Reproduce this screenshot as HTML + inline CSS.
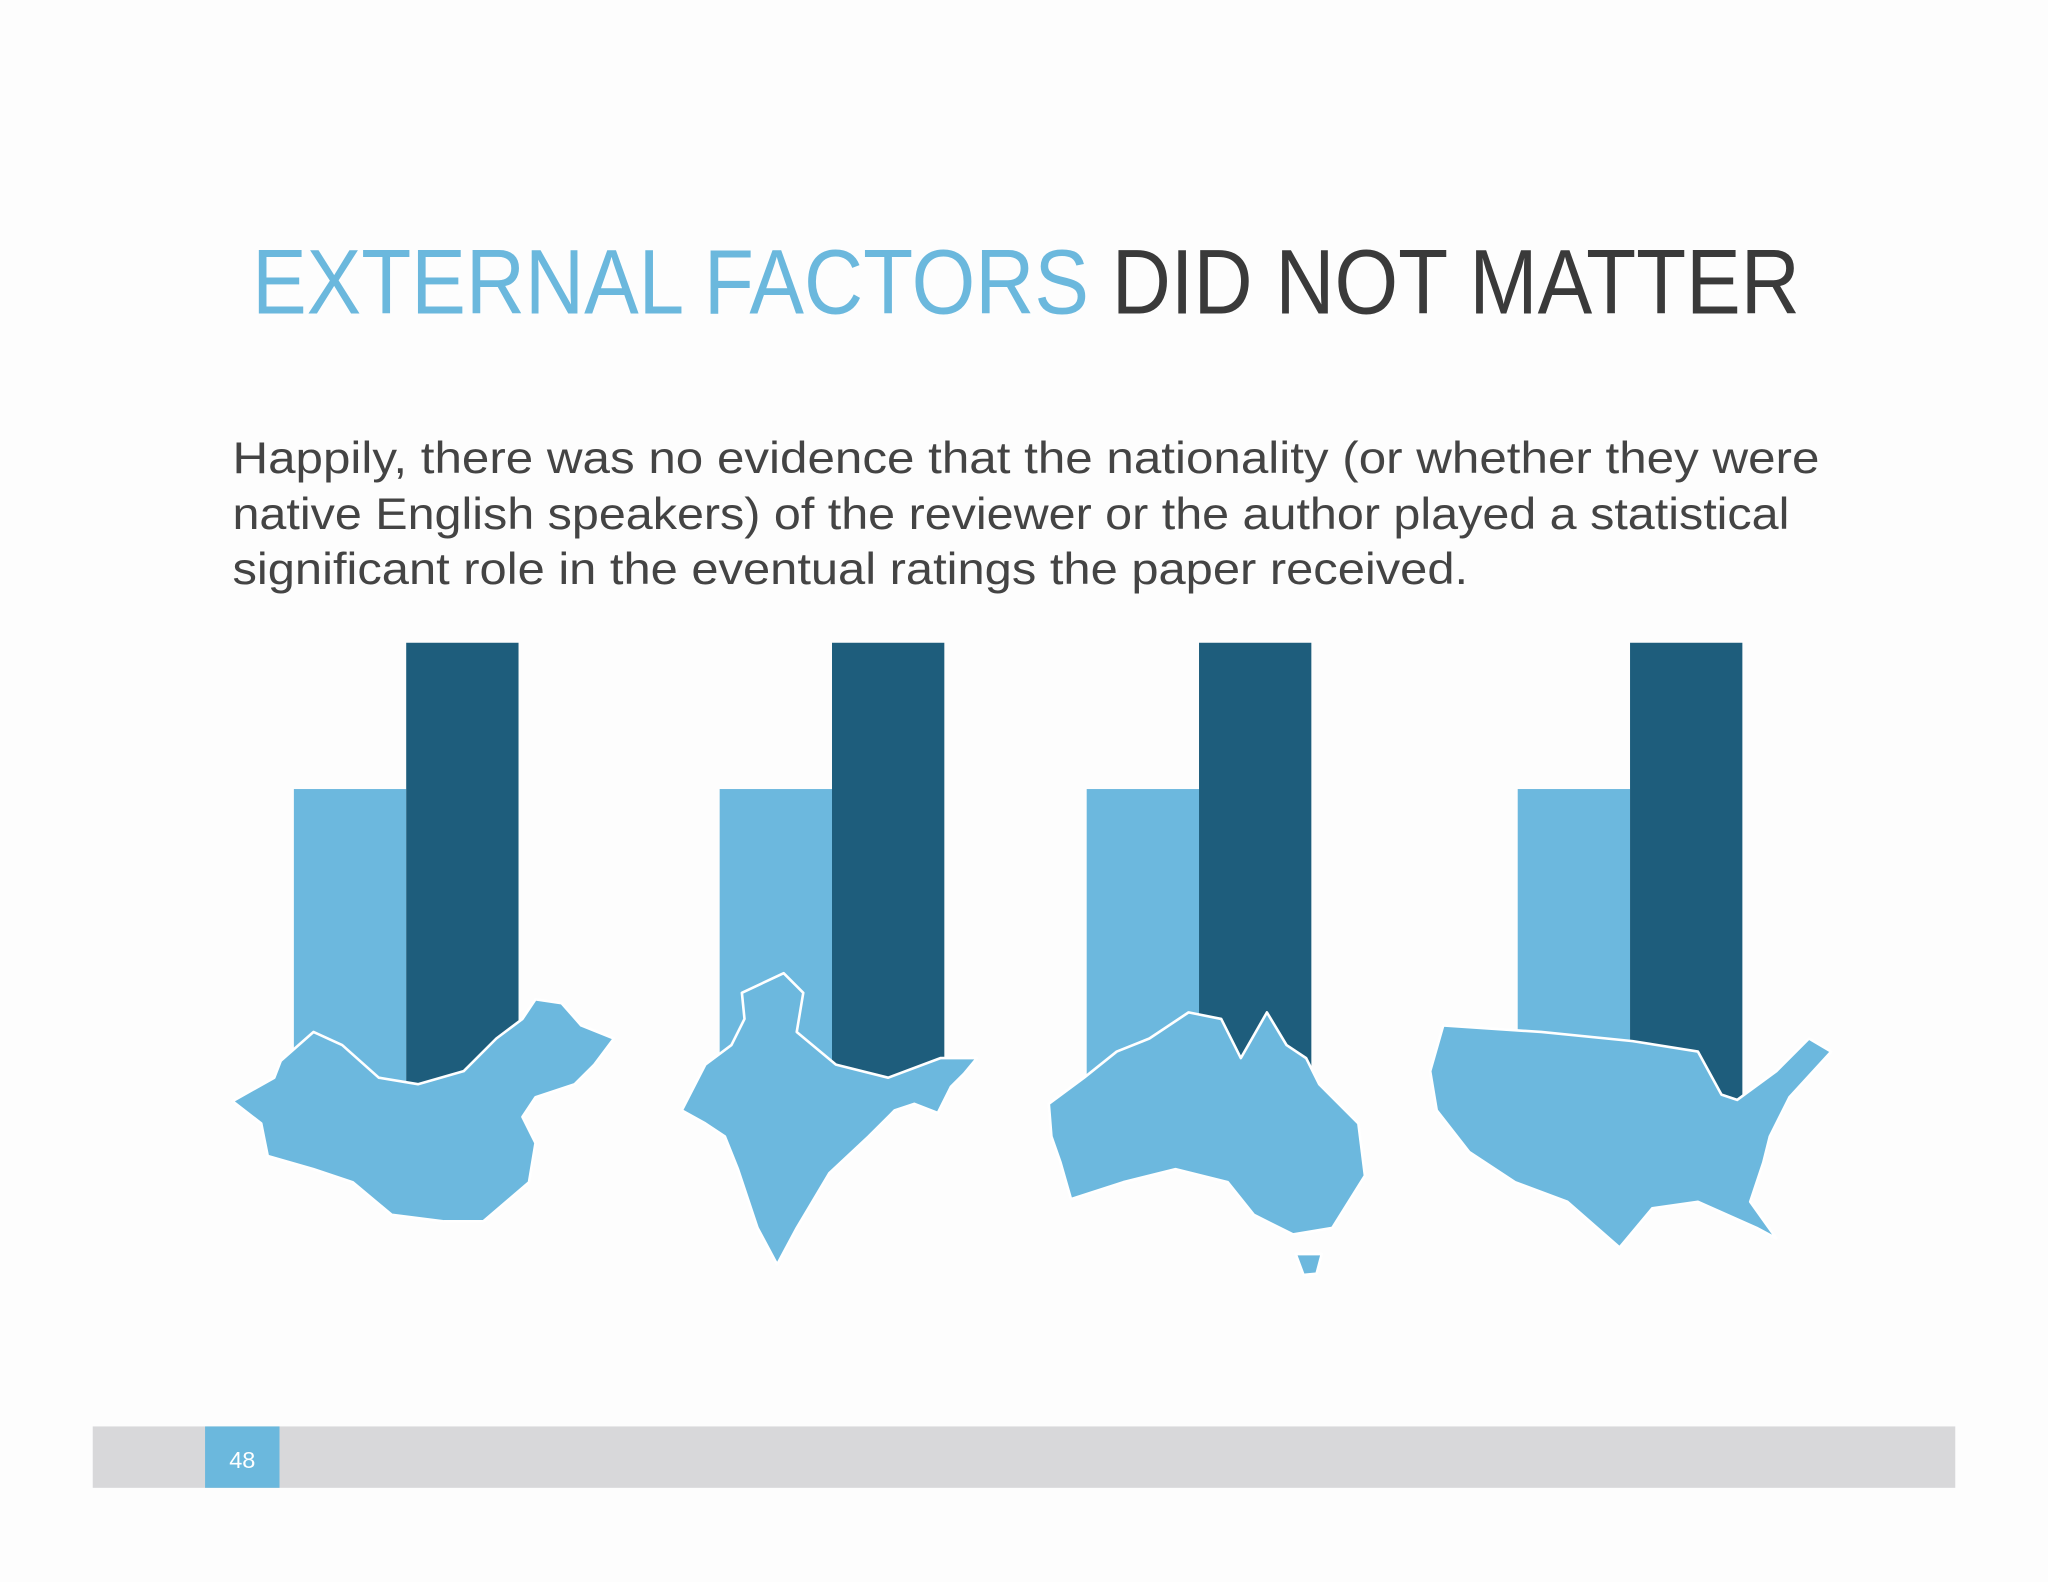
<!DOCTYPE html>
<html><head><meta charset="utf-8"><style>
html,body{margin:0;padding:0;background:#fff;}
svg{display:block;}
</style></head><body>
<svg id="chart" width="2048" height="1582" viewBox="0 0 1568 1211" xmlns="http://www.w3.org/2000/svg" font-family="'Liberation Sans', sans-serif">
<rect width="1568" height="1211" fill="#fdfdfd"/>
<text x="193" y="240" font-size="70" textLength="1185" lengthAdjust="spacingAndGlyphs" fill="#3a3a3a"><tspan fill="#6bb8dd">EXTERNAL FACTORS</tspan> DID NOT MATTER</text>
<g font-size="34" fill="#444">
<text x="178" y="362" textLength="1215" lengthAdjust="spacingAndGlyphs">Happily, there was no evidence that the nationality (or whether they were</text>
<text x="178" y="405" textLength="1192" lengthAdjust="spacingAndGlyphs">native English speakers) of the reviewer or the author played a statistical</text>
<text x="178" y="447" textLength="946" lengthAdjust="spacingAndGlyphs">significant role in the eventual ratings the paper received.</text>
</g>
<g id="bars"></g>
<g fill="#6cb8de" stroke="#fff" stroke-width="2" stroke-linejoin="round">
<polygon points="178,843 210,825 215,812 240,790 262,800 290,825 320,830 355,820 380,795 400,780 410,765 430,768 445,785 470,795 455,815 440,830 410,840 400,855 410,875 405,905 370,935 340,935 300,930 270,905 240,895 205,885 200,860"/>
<polygon points="522,850 540,815 560,800 570,780 568,760 600,745 615,760 610,790 640,815 680,825 720,810 748,810 738,822 728,832 718,852 700,845 685,850 665,870 635,898 610,940 595,968 580,940 565,895 555,870 540,860"/>
<polygon points="803,845 830,825 855,805 880,795 910,775 935,780 950,810 970,775 985,800 1000,810 1010,830 1040,860 1045,900 1020,940 990,945 960,930 940,905 900,895 860,905 820,918 812,890 805,870"/>
<polygon points="992,960 1012,960 1008,975 998,976"/>
<polygon points="1105,785 1180,790 1250,797 1300,805 1318,838 1330,842 1360,820 1385,795 1402,805 1370,840 1355,870 1350,890 1340,920 1360,948 1345,940 1300,920 1265,925 1240,955 1200,920 1160,905 1125,882 1100,850 1095,820"/>
</g>
<rect x="71" y="1092" width="1426" height="47" fill="#d8d8da"/>
<rect x="157" y="1092" width="57" height="47" fill="#6bb8dd"/>
<text x="185.5" y="1124" font-size="18" fill="#fff" text-anchor="middle">48</text>
</svg>
<script>
const categories = ["China", "India", "Australia", "USA"];
const lightValues = [0.68, 0.68, 0.68, 0.68];
const darkValues = [1.0, 1.0, 1.0, 1.0];
const groupX = [225, 551, 832, 1162];
const barW = 86, baseY = 842, topY = 492;
function yScale(v){ return baseY - v * (baseY - topY); }
const ns = "http://www.w3.org/2000/svg";
const g = document.getElementById("bars");
categories.forEach((c, i) => {
  const l = document.createElementNS(ns, "rect");
  
  
  l.setAttribute("x", groupX[i]); l.setAttribute("width", barW);
  l.setAttribute("y", yScale(lightValues[i])); l.setAttribute("height", baseY - yScale(lightValues[i]));
  l.setAttribute("fill", "#6cb8de");
  g.appendChild(l);
  const d = document.createElementNS(ns, "rect");
  
  
  d.setAttribute("x", groupX[i] + barW); d.setAttribute("width", barW);
  d.setAttribute("y", yScale(darkValues[i])); d.setAttribute("height", baseY - yScale(darkValues[i]));
  d.setAttribute("fill", "#1e5d7c");
  g.appendChild(d);
});
</script>
</body></html>
